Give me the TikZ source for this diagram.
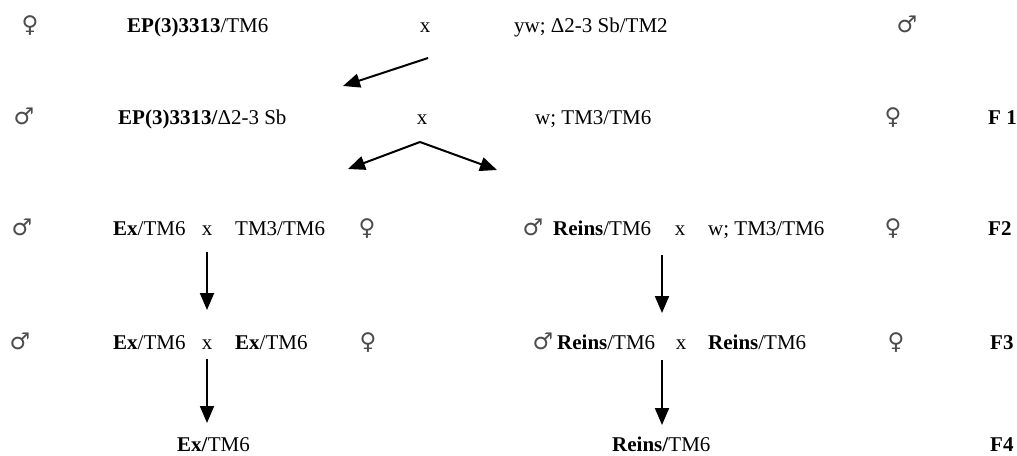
\documentclass[tikz,border=0pt]{standalone}
\usepackage{fontspec}
\setmainfont{Liberation Serif}
\newfontfamily\symfont{DejaVu Sans}
\usetikzlibrary{arrows.meta}
\begin{document}
\begin{tikzpicture}[x=1pt,y=-1pt,
  lbl/.style={anchor=base west,inner sep=0pt,font=\fontsize{21}{24}\selectfont},
  cross/.style={anchor=base,inner sep=0pt,font=\fontsize{21}{24}\selectfont},
  sex/.style={anchor=base,inner sep=0pt,font=\symfont\fontsize{23}{26}\selectfont,text=black!70},
  gen/.style={anchor=base west,inner sep=0pt,font=\fontsize{21}{24}\selectfont\bfseries},
  arr/.style={line width=2pt,-{Triangle[width=14pt,length=17pt]}}]
\useasboundingbox (0,0) rectangle (1017,455);
% Row 1
\node[sex] (s1a) at (30,32) {♀};
\node[lbl] (p1a) at (127,32) {\textbf{EP(3)3313}/TM6};
\node[cross] (x1) at (425,32) {x};
\node[lbl] (p1b) at (514,32) {yw; Δ2-3 Sb/TM2};
\node[sex] (s1b) at (907,32) {♂};
% Row 2
\node[sex] (s2a) at (24,124) {♂};
\node[lbl] (p2a) at (118,124) {\textbf{EP(3)3313/}Δ2-3 Sb};
\node[cross] (x2) at (422,124) {x};
\node[lbl] (p2b) at (535,124) {w; TM3/TM6};
\node[sex] (s2b) at (893,124) {♀};
\node[gen] (f1) at (988,124) {F 1};
% Row 3
\node[sex] (s3a) at (22,235) {♂};
\node[lbl] (p3a) at (113,235) {\textbf{Ex}/TM6};
\node[cross] (x3a) at (207,235) {x};
\node[lbl] (p3b) at (235,235) {TM3/TM6};
\node[sex] (s3b) at (367,235) {♀};
\node[sex] (s3c) at (533,235) {♂};
\node[lbl] (p3c) at (553,235) {\textbf{Reins}/TM6};
\node[cross] (x3b) at (680,235) {x};
\node[lbl] (p3d) at (708,235) {w; TM3/TM6};
\node[sex] (s3d) at (893,235) {♀};
\node[gen] (f2) at (988,235) {F2};
% Row 4
\node[sex] (s4a) at (20,349) {♂};
\node[lbl] (p4a) at (113,349) {\textbf{Ex}/TM6};
\node[cross] (x4a) at (207,349) {x};
\node[lbl] (p4b) at (235,349) {\textbf{Ex}/TM6};
\node[sex] (s4b) at (368,349) {♀};
\node[sex] (s4c) at (543,349) {♂};
\node[lbl] (p4c) at (557,349) {\textbf{Reins}/TM6};
\node[cross] (x4b) at (681,349) {x};
\node[lbl] (p4d) at (708,349) {\textbf{Reins}/TM6};
\node[sex] (s4d) at (896,349) {♀};
\node[gen] (f3) at (990,349) {F3};
% Row 5
\node[lbl] (p5a) at (177,451) {\textbf{Ex/}TM6};
\node[lbl] (p5b) at (612,451) {\textbf{Reins/}TM6};
\node[gen] (f4) at (990,451) {F4};
% arrows
\coordinate (a0s) at (428,58);
\coordinate (a0e) at (343,86);
\coordinate (a1s) at (420,142);
\coordinate (a1l) at (348,169);
\coordinate (a1r) at (497,170);
\coordinate (l1s) at (207,252);
\coordinate (l1e) at (207,310);
\coordinate (l2s) at (207,359);
\coordinate (l2e) at (207,423);
\coordinate (r1s) at (662,255);
\coordinate (r1e) at (662,313);
\coordinate (r2s) at (662,360);
\coordinate (r2e) at (662,425);
\draw[arr] (a0s) -- (a0e);
\draw[arr] (a1s) -- (a1l);
\draw[arr] (a1s) -- (a1r);
\draw[arr] (l1s) -- (l1e);
\draw[arr] (l2s) -- (l2e);
\draw[arr] (r1s) -- (r1e);
\draw[arr] (r2s) -- (r2e);
\end{tikzpicture}
\end{document}
